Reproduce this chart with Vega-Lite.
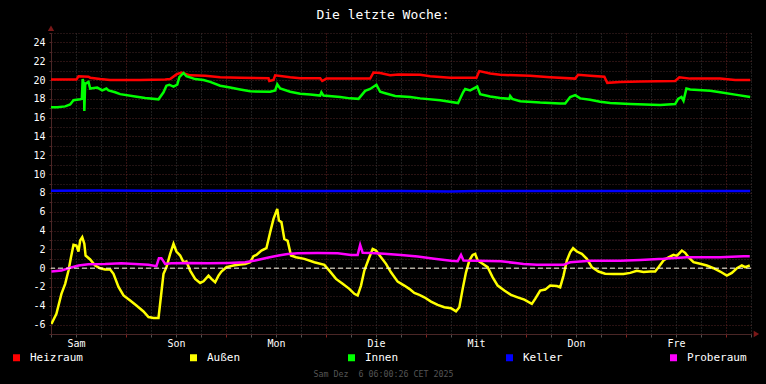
{
  "$schema": "https://vega.github.io/schema/vega-lite/v6.json",
  "autosize": "none",
  "width": 700,
  "height": 301,
  "padding": {"left": 51, "top": 33, "right": 15, "bottom": 50},
  "background": "#000000",
  "title": {"text": "Die letzte Woche:", "color": "#ffffff", "font": "DejaVu Sans Mono", "fontSize": 13, "fontWeight": "normal", "anchor": "middle", "dx": -18, "offset": -6, "baseline": "alphabetic"},
  "datasets": {
    "temps": [
      {"t": 0, "s": "Heizraum", "v": 20.05}, {"t": 6.1, "s": "Heizraum", "v": 20.05}, {"t": 6.6, "s": "Heizraum", "v": 20.4}, {"t": 9.0, "s": "Heizraum", "v": 20.35}, {"t": 9.4, "s": "Heizraum", "v": 20.25}, {"t": 11.8, "s": "Heizraum", "v": 20.1}, {"t": 14.2, "s": "Heizraum", "v": 20.0}, {"t": 21.4, "s": "Heizraum", "v": 20.0}, {"t": 27.4, "s": "Heizraum", "v": 20.05}, {"t": 28.6, "s": "Heizraum", "v": 20.1}, {"t": 30.1, "s": "Heizraum", "v": 20.6}, {"t": 31.3, "s": "Heizraum", "v": 20.8}, {"t": 33.4, "s": "Heizraum", "v": 20.5}, {"t": 37.0, "s": "Heizraum", "v": 20.45}, {"t": 40.6, "s": "Heizraum", "v": 20.3}, {"t": 45.4, "s": "Heizraum", "v": 20.25}, {"t": 52.2, "s": "Heizraum", "v": 20.2}, {"t": 52.4, "s": "Heizraum", "v": 19.9}, {"t": 53.4, "s": "Heizraum", "v": 20.0}, {"t": 53.8, "s": "Heizraum", "v": 20.5}, {"t": 57.4, "s": "Heizraum", "v": 20.3}, {"t": 59.8, "s": "Heizraum", "v": 20.2}, {"t": 64.6, "s": "Heizraum", "v": 20.2}, {"t": 65.1, "s": "Heizraum", "v": 19.9}, {"t": 66.1, "s": "Heizraum", "v": 20.15}, {"t": 71.8, "s": "Heizraum", "v": 20.15}, {"t": 76.6, "s": "Heizraum", "v": 20.15}, {"t": 77.4, "s": "Heizraum", "v": 20.8}, {"t": 79.0, "s": "Heizraum", "v": 20.75}, {"t": 81.4, "s": "Heizraum", "v": 20.5}, {"t": 83.4, "s": "Heizraum", "v": 20.6}, {"t": 88.6, "s": "Heizraum", "v": 20.55}, {"t": 91.0, "s": "Heizraum", "v": 20.4}, {"t": 95.8, "s": "Heizraum", "v": 20.25}, {"t": 102.1, "s": "Heizraum", "v": 20.25}, {"t": 102.8, "s": "Heizraum", "v": 20.95}, {"t": 105.4, "s": "Heizraum", "v": 20.7}, {"t": 107.8, "s": "Heizraum", "v": 20.55}, {"t": 115.0, "s": "Heizraum", "v": 20.45}, {"t": 119.8, "s": "Heizraum", "v": 20.3}, {"t": 125.8, "s": "Heizraum", "v": 20.15}, {"t": 126.5, "s": "Heizraum", "v": 20.55}, {"t": 129.4, "s": "Heizraum", "v": 20.45}, {"t": 132.8, "s": "Heizraum", "v": 20.35}, {"t": 133.5, "s": "Heizraum", "v": 19.7}, {"t": 136.6, "s": "Heizraum", "v": 19.8}, {"t": 141.4, "s": "Heizraum", "v": 19.85}, {"t": 149.8, "s": "Heizraum", "v": 19.9}, {"t": 150.8, "s": "Heizraum", "v": 20.3}, {"t": 153.4, "s": "Heizraum", "v": 20.15}, {"t": 160.6, "s": "Heizraum", "v": 20.15}, {"t": 164.2, "s": "Heizraum", "v": 20.0}, {"t": 167.8, "s": "Heizraum", "v": 20.0},

      {"t": 0.1, "s": "Außen", "v": -5.93}, {"t": 1.3, "s": "Außen", "v": -4.86}, {"t": 2.5, "s": "Außen", "v": -2.73}, {"t": 3.4, "s": "Außen", "v": -1.67}, {"t": 4.2, "s": "Außen", "v": -0.26}, {"t": 4.8, "s": "Außen", "v": 1.16}, {"t": 5.4, "s": "Außen", "v": 2.48}, {"t": 6.1, "s": "Außen", "v": 2.4}, {"t": 6.6, "s": "Außen", "v": 1.77}, {"t": 7.0, "s": "Außen", "v": 2.94}, {"t": 7.5, "s": "Außen", "v": 3.29}, {"t": 8.0, "s": "Außen", "v": 2.59}, {"t": 8.3, "s": "Außen", "v": 1.34}, {"t": 9.4, "s": "Außen", "v": 0.92}, {"t": 10.6, "s": "Außen", "v": 0.28}, {"t": 11.8, "s": "Außen", "v": -0.01}, {"t": 13.0, "s": "Außen", "v": -0.15}, {"t": 14.2, "s": "Außen", "v": -0.15}, {"t": 15.0, "s": "Außen", "v": -0.6}, {"t": 16.2, "s": "Außen", "v": -2.0}, {"t": 17.4, "s": "Außen", "v": -2.9}, {"t": 19.0, "s": "Außen", "v": -3.45}, {"t": 20.5, "s": "Außen", "v": -3.98}, {"t": 22.2, "s": "Außen", "v": -4.6}, {"t": 23.4, "s": "Außen", "v": -5.2}, {"t": 24.6, "s": "Außen", "v": -5.3}, {"t": 25.8, "s": "Außen", "v": -5.3}, {"t": 26.5, "s": "Außen", "v": -2.56}, {"t": 27.0, "s": "Außen", "v": -0.6}, {"t": 27.7, "s": "Außen", "v": 0.1}, {"t": 28.6, "s": "Außen", "v": 1.52}, {"t": 29.4, "s": "Außen", "v": 2.59}, {"t": 30.1, "s": "Außen", "v": 1.77}, {"t": 31.0, "s": "Außen", "v": 1.34}, {"t": 31.8, "s": "Außen", "v": 0.63}, {"t": 32.5, "s": "Außen", "v": 0.7}, {"t": 33.4, "s": "Außen", "v": -0.26}, {"t": 34.6, "s": "Außen", "v": -1.14}, {"t": 35.8, "s": "Außen", "v": -1.57}, {"t": 36.6, "s": "Außen", "v": -1.4}, {"t": 37.8, "s": "Außen", "v": -0.79}, {"t": 38.5, "s": "Außen", "v": -1.14}, {"t": 39.4, "s": "Außen", "v": -1.5}, {"t": 40.2, "s": "Außen", "v": -0.79}, {"t": 40.9, "s": "Außen", "v": -0.36}, {"t": 42.1, "s": "Außen", "v": 0.1}, {"t": 43.8, "s": "Außen", "v": 0.28}, {"t": 45.4, "s": "Außen", "v": 0.38}, {"t": 46.6, "s": "Außen", "v": 0.45}, {"t": 47.8, "s": "Außen", "v": 0.63}, {"t": 48.6, "s": "Außen", "v": 1.27}, {"t": 49.3, "s": "Außen", "v": 1.4}, {"t": 50.5, "s": "Außen", "v": 1.87}, {"t": 51.7, "s": "Außen", "v": 2.12}, {"t": 52.6, "s": "Außen", "v": 3.82}, {"t": 53.4, "s": "Außen", "v": 5.24}, {"t": 54.3, "s": "Außen", "v": 6.3}, {"t": 54.7, "s": "Außen", "v": 5.06}, {"t": 55.3, "s": "Außen", "v": 4.9}, {"t": 56.0, "s": "Außen", "v": 3.1}, {"t": 56.8, "s": "Außen", "v": 2.9}, {"t": 57.6, "s": "Außen", "v": 1.34}, {"t": 58.8, "s": "Außen", "v": 1.16}, {"t": 60.8, "s": "Außen", "v": 0.99}, {"t": 63.2, "s": "Außen", "v": 0.63}, {"t": 65.6, "s": "Außen", "v": 0.35}, {"t": 66.8, "s": "Außen", "v": -0.26}, {"t": 68.4, "s": "Außen", "v": -1.14}, {"t": 70.0, "s": "Außen", "v": -1.67}, {"t": 71.6, "s": "Außen", "v": -2.2}, {"t": 72.8, "s": "Außen", "v": -2.73}, {"t": 73.6, "s": "Außen", "v": -2.9}, {"t": 74.4, "s": "Außen", "v": -1.85}, {"t": 75.2, "s": "Außen", "v": -0.26}, {"t": 76.4, "s": "Außen", "v": 1.16}, {"t": 77.2, "s": "Außen", "v": 2.05}, {"t": 78.0, "s": "Außen", "v": 1.87}, {"t": 79.2, "s": "Außen", "v": 1.16}, {"t": 80.4, "s": "Außen", "v": 0.46}, {"t": 81.6, "s": "Außen", "v": -0.44}, {"t": 83.2, "s": "Außen", "v": -1.43}, {"t": 84.8, "s": "Außen", "v": -1.85}, {"t": 86.0, "s": "Außen", "v": -2.2}, {"t": 87.2, "s": "Außen", "v": -2.63}, {"t": 88.4, "s": "Außen", "v": -2.84}, {"t": 89.6, "s": "Außen", "v": -3.1}, {"t": 91.2, "s": "Außen", "v": -3.55}, {"t": 92.8, "s": "Außen", "v": -3.9}, {"t": 94.4, "s": "Außen", "v": -4.16}, {"t": 96.0, "s": "Außen", "v": -4.26}, {"t": 97.2, "s": "Außen", "v": -4.6}, {"t": 98.0, "s": "Außen", "v": -4.16}, {"t": 98.8, "s": "Außen", "v": -2.2}, {"t": 99.6, "s": "Außen", "v": -0.44}, {"t": 100.4, "s": "Außen", "v": 0.81}, {"t": 101.2, "s": "Außen", "v": 1.41}, {"t": 101.8, "s": "Außen", "v": 1.52}, {"t": 102.4, "s": "Außen", "v": 0.81}, {"t": 103.6, "s": "Außen", "v": 0.46}, {"t": 104.8, "s": "Außen", "v": 0.1}, {"t": 106.0, "s": "Außen", "v": -0.97}, {"t": 107.2, "s": "Außen", "v": -1.85}, {"t": 108.8, "s": "Außen", "v": -2.38}, {"t": 110.4, "s": "Außen", "v": -2.84}, {"t": 112.0, "s": "Außen", "v": -3.1}, {"t": 113.6, "s": "Außen", "v": -3.35}, {"t": 115.4, "s": "Außen", "v": -3.8}, {"t": 116.2, "s": "Außen", "v": -3.27}, {"t": 117.4, "s": "Außen", "v": -2.38}, {"t": 118.6, "s": "Außen", "v": -2.28}, {"t": 119.8, "s": "Außen", "v": -1.85}, {"t": 121.4, "s": "Außen", "v": -1.9}, {"t": 122.2, "s": "Außen", "v": -2.03}, {"t": 123.0, "s": "Außen", "v": -0.79}, {"t": 123.8, "s": "Außen", "v": 0.81}, {"t": 124.6, "s": "Außen", "v": 1.69}, {"t": 125.3, "s": "Außen", "v": 2.12}, {"t": 126.2, "s": "Außen", "v": 1.77}, {"t": 127.4, "s": "Außen", "v": 1.52}, {"t": 128.6, "s": "Außen", "v": 0.99}, {"t": 129.8, "s": "Außen", "v": 0.1}, {"t": 131.4, "s": "Außen", "v": -0.36}, {"t": 133.0, "s": "Außen", "v": -0.6}, {"t": 135.0, "s": "Außen", "v": -0.63}, {"t": 137.4, "s": "Außen", "v": -0.63}, {"t": 139.0, "s": "Außen", "v": -0.5}, {"t": 140.6, "s": "Außen", "v": -0.29}, {"t": 142.2, "s": "Außen", "v": -0.4}, {"t": 143.8, "s": "Außen", "v": -0.36}, {"t": 145.0, "s": "Außen", "v": -0.36}, {"t": 145.8, "s": "Außen", "v": 0.1}, {"t": 147.0, "s": "Außen", "v": 0.81}, {"t": 148.2, "s": "Außen", "v": 1.16}, {"t": 149.4, "s": "Außen", "v": 1.41}, {"t": 150.2, "s": "Außen", "v": 1.3}, {"t": 151.4, "s": "Außen", "v": 1.87}, {"t": 152.2, "s": "Außen", "v": 1.63}, {"t": 153.0, "s": "Außen", "v": 1.16}, {"t": 154.2, "s": "Außen", "v": 0.63}, {"t": 155.8, "s": "Außen", "v": 0.46}, {"t": 157.4, "s": "Außen", "v": 0.28}, {"t": 159.0, "s": "Außen", "v": -0.01}, {"t": 160.6, "s": "Außen", "v": -0.36}, {"t": 162.2, "s": "Außen", "v": -0.79}, {"t": 163.4, "s": "Außen", "v": -0.5}, {"t": 164.6, "s": "Außen", "v": -0.01}, {"t": 165.8, "s": "Außen", "v": 0.28}, {"t": 166.6, "s": "Außen", "v": 0.1}, {"t": 167.7, "s": "Außen", "v": 0.28},

      {"t": 0, "s": "Innen", "v": 17.1}, {"t": 1.5, "s": "Innen", "v": 17.1}, {"t": 3.4, "s": "Innen", "v": 17.2}, {"t": 4.6, "s": "Innen", "v": 17.4}, {"t": 5.4, "s": "Innen", "v": 17.85}, {"t": 7.0, "s": "Innen", "v": 17.95}, {"t": 7.4, "s": "Innen", "v": 18.0}, {"t": 7.6, "s": "Innen", "v": 20.1}, {"t": 7.9, "s": "Innen", "v": 19.5}, {"t": 8.0, "s": "Innen", "v": 16.7}, {"t": 8.2, "s": "Innen", "v": 19.6}, {"t": 9.0, "s": "Innen", "v": 19.8}, {"t": 9.4, "s": "Innen", "v": 19.1}, {"t": 11.1, "s": "Innen", "v": 19.2}, {"t": 12.3, "s": "Innen", "v": 18.9}, {"t": 13.3, "s": "Innen", "v": 19.1}, {"t": 13.8, "s": "Innen", "v": 18.9}, {"t": 15.4, "s": "Innen", "v": 18.7}, {"t": 16.6, "s": "Innen", "v": 18.5}, {"t": 20.2, "s": "Innen", "v": 18.25}, {"t": 22.6, "s": "Innen", "v": 18.1}, {"t": 25.8, "s": "Innen", "v": 17.95}, {"t": 27.0, "s": "Innen", "v": 18.7}, {"t": 27.7, "s": "Innen", "v": 19.4}, {"t": 28.4, "s": "Innen", "v": 19.5}, {"t": 29.4, "s": "Innen", "v": 19.3}, {"t": 30.3, "s": "Innen", "v": 19.5}, {"t": 30.8, "s": "Innen", "v": 20.3}, {"t": 31.8, "s": "Innen", "v": 20.75}, {"t": 32.5, "s": "Innen", "v": 20.4}, {"t": 34.6, "s": "Innen", "v": 20.1}, {"t": 36.6, "s": "Innen", "v": 20.0}, {"t": 38.2, "s": "Innen", "v": 19.8}, {"t": 40.6, "s": "Innen", "v": 19.4}, {"t": 43.0, "s": "Innen", "v": 19.2}, {"t": 45.4, "s": "Innen", "v": 19.0}, {"t": 47.8, "s": "Innen", "v": 18.8}, {"t": 52.6, "s": "Innen", "v": 18.75}, {"t": 53.8, "s": "Innen", "v": 18.9}, {"t": 54.3, "s": "Innen", "v": 19.55}, {"t": 55.0, "s": "Innen", "v": 19.1}, {"t": 57.4, "s": "Innen", "v": 18.75}, {"t": 59.8, "s": "Innen", "v": 18.55}, {"t": 62.2, "s": "Innen", "v": 18.45}, {"t": 64.6, "s": "Innen", "v": 18.35}, {"t": 64.9, "s": "Innen", "v": 18.7}, {"t": 65.4, "s": "Innen", "v": 18.35}, {"t": 69.4, "s": "Innen", "v": 18.2}, {"t": 71.8, "s": "Innen", "v": 18.05}, {"t": 73.8, "s": "Innen", "v": 18.0}, {"t": 75.4, "s": "Innen", "v": 18.85}, {"t": 76.6, "s": "Innen", "v": 19.05}, {"t": 78.1, "s": "Innen", "v": 19.5}, {"t": 79.0, "s": "Innen", "v": 18.75}, {"t": 80.2, "s": "Innen", "v": 18.6}, {"t": 82.6, "s": "Innen", "v": 18.3}, {"t": 86.2, "s": "Innen", "v": 18.2}, {"t": 88.6, "s": "Innen", "v": 18.05}, {"t": 93.4, "s": "Innen", "v": 17.85}, {"t": 97.7, "s": "Innen", "v": 17.55}, {"t": 98.9, "s": "Innen", "v": 18.7}, {"t": 99.4, "s": "Innen", "v": 19.05}, {"t": 100.6, "s": "Innen", "v": 18.9}, {"t": 102.3, "s": "Innen", "v": 19.3}, {"t": 103.0, "s": "Innen", "v": 18.5}, {"t": 105.4, "s": "Innen", "v": 18.25}, {"t": 107.8, "s": "Innen", "v": 18.1}, {"t": 110.0, "s": "Innen", "v": 18.0}, {"t": 110.2, "s": "Innen", "v": 18.3}, {"t": 110.7, "s": "Innen", "v": 18.0}, {"t": 112.6, "s": "Innen", "v": 17.75}, {"t": 117.4, "s": "Innen", "v": 17.6}, {"t": 122.2, "s": "Innen", "v": 17.5}, {"t": 123.4, "s": "Innen", "v": 17.5}, {"t": 124.6, "s": "Innen", "v": 18.2}, {"t": 125.8, "s": "Innen", "v": 18.4}, {"t": 127.0, "s": "Innen", "v": 18.05}, {"t": 129.4, "s": "Innen", "v": 17.9}, {"t": 131.8, "s": "Innen", "v": 17.7}, {"t": 134.2, "s": "Innen", "v": 17.55}, {"t": 139.0, "s": "Innen", "v": 17.45}, {"t": 146.2, "s": "Innen", "v": 17.35}, {"t": 149.8, "s": "Innen", "v": 17.45}, {"t": 150.5, "s": "Innen", "v": 18.0}, {"t": 151.3, "s": "Innen", "v": 18.2}, {"t": 151.8, "s": "Innen", "v": 17.8}, {"t": 152.5, "s": "Innen", "v": 19.1}, {"t": 153.4, "s": "Innen", "v": 19.0}, {"t": 158.2, "s": "Innen", "v": 18.85}, {"t": 160.6, "s": "Innen", "v": 18.7}, {"t": 164.2, "s": "Innen", "v": 18.45}, {"t": 167.8, "s": "Innen", "v": 18.2},

      {"t": 0, "s": "Keller", "v": 8.22}, {"t": 12, "s": "Keller", "v": 8.25}, {"t": 24, "s": "Keller", "v": 8.24}, {"t": 36, "s": "Keller", "v": 8.22}, {"t": 48, "s": "Keller", "v": 8.22}, {"t": 60, "s": "Keller", "v": 8.21}, {"t": 72, "s": "Keller", "v": 8.2}, {"t": 84, "s": "Keller", "v": 8.2}, {"t": 96, "s": "Keller", "v": 8.16}, {"t": 102, "s": "Keller", "v": 8.2}, {"t": 108, "s": "Keller", "v": 8.21}, {"t": 120, "s": "Keller", "v": 8.2}, {"t": 132, "s": "Keller", "v": 8.2}, {"t": 144, "s": "Keller", "v": 8.2}, {"t": 156, "s": "Keller", "v": 8.2}, {"t": 167.8, "s": "Keller", "v": 8.2},

      {"t": 0.1, "s": "Proberaum", "v": -0.36}, {"t": 2.5, "s": "Proberaum", "v": -0.26}, {"t": 4.2, "s": "Proberaum", "v": -0.01}, {"t": 6.6, "s": "Proberaum", "v": 0.28}, {"t": 9.0, "s": "Proberaum", "v": 0.42}, {"t": 13.0, "s": "Proberaum", "v": 0.45}, {"t": 16.9, "s": "Proberaum", "v": 0.52}, {"t": 20.2, "s": "Proberaum", "v": 0.45}, {"t": 23.4, "s": "Proberaum", "v": 0.35}, {"t": 25.3, "s": "Proberaum", "v": 0.21}, {"t": 25.9, "s": "Proberaum", "v": 1.06}, {"t": 26.5, "s": "Proberaum", "v": 1.06}, {"t": 27.4, "s": "Proberaum", "v": 0.45}, {"t": 28.9, "s": "Proberaum", "v": 0.52}, {"t": 33.0, "s": "Proberaum", "v": 0.56}, {"t": 37.8, "s": "Proberaum", "v": 0.52}, {"t": 42.6, "s": "Proberaum", "v": 0.56}, {"t": 46.6, "s": "Proberaum", "v": 0.63}, {"t": 49.0, "s": "Proberaum", "v": 0.81}, {"t": 52.2, "s": "Proberaum", "v": 1.13}, {"t": 54.6, "s": "Proberaum", "v": 1.34}, {"t": 56.8, "s": "Proberaum", "v": 1.5}, {"t": 59.2, "s": "Proberaum", "v": 1.59}, {"t": 64.0, "s": "Proberaum", "v": 1.6}, {"t": 68.8, "s": "Proberaum", "v": 1.59}, {"t": 72.0, "s": "Proberaum", "v": 1.41}, {"t": 73.6, "s": "Proberaum", "v": 1.41}, {"t": 74.2, "s": "Proberaum", "v": 2.48}, {"t": 74.8, "s": "Proberaum", "v": 1.63}, {"t": 76.8, "s": "Proberaum", "v": 1.6}, {"t": 80.0, "s": "Proberaum", "v": 1.52}, {"t": 84.0, "s": "Proberaum", "v": 1.41}, {"t": 88.0, "s": "Proberaum", "v": 1.23}, {"t": 92.0, "s": "Proberaum", "v": 0.99}, {"t": 96.0, "s": "Proberaum", "v": 0.78}, {"t": 97.6, "s": "Proberaum", "v": 0.73}, {"t": 98.4, "s": "Proberaum", "v": 1.41}, {"t": 99.0, "s": "Proberaum", "v": 0.81}, {"t": 102.4, "s": "Proberaum", "v": 0.78}, {"t": 108.0, "s": "Proberaum", "v": 0.73}, {"t": 112.0, "s": "Proberaum", "v": 0.52}, {"t": 113.4, "s": "Proberaum", "v": 0.45}, {"t": 116.6, "s": "Proberaum", "v": 0.35}, {"t": 123.0, "s": "Proberaum", "v": 0.35}, {"t": 124.6, "s": "Proberaum", "v": 0.63}, {"t": 129.4, "s": "Proberaum", "v": 0.78}, {"t": 136.6, "s": "Proberaum", "v": 0.78}, {"t": 141.4, "s": "Proberaum", "v": 0.88}, {"t": 147.0, "s": "Proberaum", "v": 0.99}, {"t": 152.6, "s": "Proberaum", "v": 1.16}, {"t": 160.6, "s": "Proberaum", "v": 1.16}, {"t": 166.2, "s": "Proberaum", "v": 1.27}, {"t": 167.7, "s": "Proberaum", "v": 1.27}
    ]
  },
  "layer": [
    {
      "data": {"name": "temps"},
      "mark": {"type": "line", "strokeWidth": 2.5, "interpolate": "linear", "clip": true},
      "encoding": {
        "x": {
          "field": "t", "type": "quantitative",
          "scale": {"domain": [0, 168], "nice": false, "zero": false},
          "axis": {
            "values": [0, 6, 12, 18, 24, 30, 36, 42, 48, 54, 60, 66, 72, 78, 84, 90, 96, 102, 108, 114, 120, 126, 132, 138, 144, 150, 156, 162, 168],
            "tickCount": 500,
            "labelExpr": "datum.value == 6 ? 'Sam' : datum.value == 30 ? 'Son' : datum.value == 54 ? 'Mon' : datum.value == 78 ? 'Die' : datum.value == 102 ? 'Mit' : datum.value == 126 ? 'Don' : datum.value == 150 ? 'Fre' : ''",
            "grid": true,
            "gridColor": {"condition": {"test": "datum.value % 24 == 18", "value": "#6a2424"}, "value": "#3c3c3c"},
            "gridDash": [1, 2],
            "tickColor": {"condition": {"test": "datum.value % 24 == 18", "value": "#8a2020"}, "value": "#505050"},
            "tickSize": 3,
            "labelPadding": 1,
            "labelFlush": false,
            "labelOverlap": false,
            "labelColor": "#ffffff",
            "labelFont": "DejaVu Sans Mono",
            "labelFontSize": 10,
            "domainColor": "#4a2626",
            "title": "Sam Dez \u00a06 06:00:26 CET 2025",
            "titleX": 332,
            "titleY": 42,
            "titleAlign": "center",
            "titleBaseline": "alphabetic",
            "titleColor": "#555555",
            "titleFont": "DejaVu Sans Mono",
            "titleFontSize": 8.3,
            "titleFontWeight": "normal"
          }
        },
        "y": {
          "field": "v", "type": "quantitative",
          "scale": {"domain": [-7, 25], "nice": false, "zero": false},
          "axis": {
            "values": [-7, -6, -5, -4, -3, -2, -1, 0, 1, 2, 3, 4, 5, 6, 7, 8, 9, 10, 11, 12, 13, 14, 15, 16, 17, 18, 19, 20, 21, 22, 23, 24, 25],
            "tickCount": 500,
            "labelExpr": "(datum.value % 2 == 0 && datum.value > -7 && datum.value < 25) ? '' + datum.value : ''",
            "grid": true,
            "gridColor": {"condition": {"test": "datum.value % 2 == 0", "value": "#552424"}, "value": "#442626"},
            "gridDash": [1, 2],
            "tickColor": "#552424",
            "tickSize": 2,
            "labelPadding": 4,
            "labelOverlap": false,
            "labelColor": "#ffffff",
            "labelFont": "DejaVu Sans Mono",
            "labelFontSize": 10,
            "domainColor": "#4a2626",
            "title": null
          }
        },
        "color": {
          "field": "s", "type": "nominal",
          "scale": {"domain": ["Heizraum", "Außen", "Innen", "Keller", "Proberaum"], "range": ["#ff0000", "#ffff00", "#00ff00", "#0000ff", "#ff00ff"]},
          "legend": {
            "orient": "none",
            "direction": "horizontal",
            "columns": 5,
            "legendX": -40,
            "legendY": 319,
            "padding": 0,
            "columnPadding": 105,
            "symbolType": "square",
            "symbolSize": 49,
            "symbolStrokeWidth": 0,
            "labelOffset": 8,
            "labelFont": "DejaVu Sans Mono",
            "labelFontSize": 11,
            "labelColor": "#ffffff",
            "title": null,
            "encode": {"symbols": {"update": {"fill": {"scale": "color", "field": "value"}, "fillOpacity": {"value": 1}}}}
          }
        }
      }
    },
    {
      "data": {"values": [{}]},
      "mark": {"type": "rule", "color": "#ffffee", "strokeDash": [5, 3], "strokeWidth": 1},
      "encoding": {"y": {"datum": 0, "type": "quantitative"}}
    },
    {
      "data": {"values": [{}]},
      "mark": {"type": "point", "shape": "triangle-up", "filled": true, "color": "#7a1818", "size": 40, "opacity": 1, "clip": false},
      "encoding": {"x": {"datum": 0, "type": "quantitative"}, "y": {"datum": 25.5, "type": "quantitative"}}
    },
    {
      "data": {"values": [{}]},
      "mark": {"type": "point", "shape": "triangle-right", "filled": true, "color": "#7a1818", "size": 40, "opacity": 1, "clip": false},
      "encoding": {"x": {"datum": 169.3, "type": "quantitative"}, "y": {"datum": -7, "type": "quantitative"}}
    }
  ],
  "config": {
    "view": {"stroke": null}
  }
}
